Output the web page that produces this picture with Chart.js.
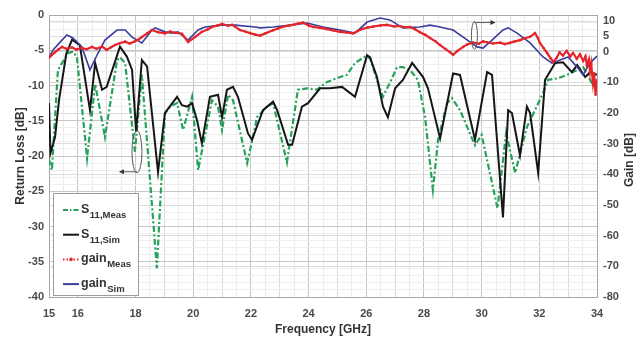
<!DOCTYPE html>
<html>
<head>
<meta charset="utf-8">
<title>Return loss and gain</title>
<script src="https://cdn.jsdelivr.net/npm/chart.js@4.4.1/dist/chart.umd.min.js"></script>
<style>
  html, body { margin: 0; padding: 0; background: #fff; }
</style>
</head>
<body>
<canvas id="chart" width="641" height="340"></canvas>
<script>
// S11 measured (left axis, dB)
const s11MeasFreq = [15.0, 15.1, 15.31, 15.66, 15.83, 15.97, 16.32, 16.6, 16.94, 17.36,
  17.46, 17.64, 17.98, 18.22, 18.74, 19.02, 19.2, 19.44, 19.65, 19.96,
  20.17, 20.65, 20.86, 21.0, 21.21, 21.38, 21.87, 22.14, 22.21, 22.56,
  22.77, 23.01, 23.25, 23.63, 23.95, 24.29, 24.64, 25.09, 25.33, 25.61,
  25.96, 26.13, 26.37, 26.58, 26.82, 27.07, 27.27, 27.52, 27.79, 28.04,
  28.31, 28.49, 28.8, 28.97, 29.25, 29.77, 30.0, 30.55, 30.85, 31.16,
  31.57, 31.85, 32.13, 32.3, 32.61, 32.96, 33.31, 33.52, 33.83, 34.0];
const s11MeasDb = [-20.5, -22.0, -7.8, -5.4, -5.2, -6.0, -20.3, -9.8, -17.3, -6.4,
  -6.0, -6.8, -19.4, -8.5, -35.9, -14.0, -13.0, -12.5, -16.3, -11.6,
  -22.0, -12.1, -13.0, -16.3, -11.3, -12.1, -21.0, -16.0, -14.5, -13.0,
  -12.5, -16.7, -20.9, -10.6, -10.4, -10.6, -9.5, -8.8, -8.5, -6.8,
  -5.9, -6.1, -9.2, -11.6, -9.6, -7.4, -7.4, -7.8, -9.2, -14.5,
  -24.8, -17.7, -12.5, -11.8, -13.5, -18.5, -17.0, -27.4, -16.7, -22.4,
  -15.9, -13.5, -11.1, -9.2, -9.0, -8.5, -7.8, -7.4, -9.7, -10.6];

// S11 simulated (left axis, dB)
const s11SimFreq = [15.0, 15.05, 15.21, 15.35, 15.6, 15.8, 16.07, 16.42, 16.6, 16.84,
  17.0, 17.46, 17.7, 17.88, 18.02, 18.22, 18.4, 18.78, 19.02, 19.44,
  19.61, 19.79, 19.96, 20.13, 20.3, 20.58, 20.86, 21.0, 21.17, 21.38,
  21.55, 21.9, 22.04, 22.42, 22.77, 22.91, 23.29, 23.43, 23.77, 23.98,
  24.4, 24.74, 25.16, 25.61, 26.03, 26.13, 26.37, 26.58, 26.75, 27.0,
  27.27, 27.59, 27.97, 28.14, 28.56, 29.01, 29.25, 29.77, 30.19, 30.36,
  30.74, 30.92, 31.05, 31.33, 31.57, 31.68, 31.96, 32.2, 32.55, 32.82,
  33.13, 33.31, 33.59, 33.76, 34.0];
const s11SimDb = [-12.5, -19.6, -17.3, -12.0, -5.5, -3.5, -4.3, -13.5, -6.8, -10.6,
  -10.2, -4.5, -5.9, -7.8, -16.5, -6.4, -7.3, -22.3, -13.9, -11.6,
  -12.8, -13.0, -12.5, -14.9, -18.2, -11.6, -11.3, -14.5, -10.6, -10.2,
  -11.6, -16.8, -17.7, -13.5, -12.3, -13.5, -18.4, -18.4, -13.0, -12.5,
  -10.4, -10.4, -10.2, -11.6, -5.7, -6.0, -8.8, -13.0, -14.5, -10.4,
  -9.2, -6.8, -8.8, -10.4, -17.5, -8.3, -8.5, -17.7, -8.1, -8.5,
  -28.7, -13.5, -13.9, -19.9, -13.0, -13.9, -22.4, -9.2, -6.8, -6.7,
  -8.1, -7.1, -8.8, -8.1, -8.5];

// gain measured (right axis, dB)
const gainMeasFreq = [15.0, 15.1, 15.21, 15.33, 15.45, 15.6, 15.8, 15.95, 16.14, 16.3,
  16.49, 16.65, 16.84, 17.0, 17.15, 17.29, 17.45, 17.64, 17.8, 17.98,
  18.1, 18.22, 18.4, 18.57, 18.78, 19.02, 19.2, 19.37, 19.61, 19.82,
  20.06, 20.3, 20.5, 20.65, 20.85, 21.0, 21.2, 21.35, 21.62, 21.8,
  21.97, 22.15, 22.32, 22.5, 22.77, 22.95, 23.11, 23.3, 23.46, 23.63,
  23.81, 24.0, 24.15, 24.4, 24.64, 24.85, 25.09, 25.3, 25.54, 25.7,
  25.89, 26.05, 26.23, 26.5, 26.72, 26.95, 27.17, 27.35, 27.52, 27.7,
  27.86, 28.05, 28.21, 28.4, 28.56, 28.75, 28.9, 29.01, 29.15, 29.36,
  29.5, 29.7, 29.9, 30.05, 30.19, 30.4, 30.64, 30.8, 30.98, 31.15,
  31.33, 31.5, 31.68, 31.85, 31.95, 32.02, 32.15, 32.27, 32.4, 32.48,
  32.6, 32.7, 32.82, 32.95, 33.07, 33.17, 33.3, 33.41, 33.52, 33.6,
  33.65, 33.72, 33.76, 33.8, 33.86, 33.9, 33.95, 34.0];
const gainMeasDb = [-1.9, -1.0, -0.1, 0.8, 1.6, 1.0, 1.4, 0.7, 1.3, 0.8,
  1.6, 1.0, 1.7, 0.6, 1.5, 2.2, 2.8, 3.3, 2.7, 3.4,
  4.0, 4.8, 6.0, 7.1, 6.4, 6.0, 6.6, 6.2, 5.9, 3.2,
  4.8, 6.5, 7.3, 8.1, 8.6, 9.1, 8.5, 8.8, 7.1, 6.6,
  6.1, 5.6, 5.3, 6.0, 7.0, 7.6, 8.2, 8.5, 8.8, 9.2,
  9.5, 8.6, 8.1, 7.8, 7.4, 7.0, 6.5, 6.3, 6.0, 6.8,
  7.5, 7.9, 8.2, 8.6, 8.8, 8.3, 8.4, 8.0, 8.1, 7.3,
  6.4, 5.5, 4.5, 3.4, 2.2, 0.9, -0.1, -1.0, 0.2, 1.6,
  2.4, 3.0, 2.6, 3.4, 3.1, 2.7, 3.0, 2.5, 2.9, 3.4,
  3.8, 4.4, 4.9, 6.1, 4.5, 2.9, 1.2, -0.4, -2.2, -3.3,
  -2.0, -0.2, -1.2, 0.3, -1.5, -0.4, -2.3, -0.8, -3.0, -1.5,
  -4.5, -2.5, -6.5, -4.0, -10.2, -7.0, -14.0, -9.2];

// gain simulated (right axis, dB)
const gainSimFreq = [15.0, 15.14, 15.45, 15.62, 15.83, 16.14, 16.42, 16.7, 16.94, 17.36,
  17.64, 17.88, 18.22, 18.57, 18.68, 19.02, 19.26, 19.47, 19.82, 20.17,
  20.41, 21.0, 21.45, 22.14, 22.32, 22.77, 23.36, 23.95, 24.5, 25.09,
  25.61, 26.03, 26.48, 26.82, 27.27, 27.86, 28.21, 28.56, 29.01, 29.36,
  29.84, 30.05, 30.36, 30.74, 30.92, 31.23, 31.68, 32.13, 32.44, 32.72,
  33.0, 33.31, 33.52, 33.65, 33.86, 34.0];
const gainSimDb = [-1.7, 0.6, 3.8, 5.5, 4.5, 1.6, -5.9, -0.4, 3.8, 7.1,
  7.1, 4.8, 2.9, 7.1, 7.8, 6.5, 6.1, 6.5, 3.8, 7.1,
  8.1, 8.7, 8.7, 8.1, 7.8, 8.1, 8.7, 9.4, 8.1, 7.1,
  6.1, 9.7, 11.0, 10.4, 7.8, 8.1, 8.7, 8.1, 7.1, 4.8,
  1.6, 1.2, 3.8, 7.1, 7.8, 6.1, 2.9, -1.7, -3.7, -2.7,
  -1.7, -5.0, -7.6, -5.3, -2.7, -1.4];

// axis ticks
const freqLabels = [15, 16, 18, 20, 22, 24, 26, 28, 30, 32, 34];
const gainTicks = [-80, -70, -60, -50, -40, -30, -20, -10, 0, 5, 10];

// legend text
const legendMain = ["S", "S", "gain", "gain"];
const legendSub = ["11,Meas", "11,Sim", "Meas", "Sim"];

const colGreen = "#25a25a";
const colBlack = "#161616";
const colRed = "#e4262c";
const colBlue = "#3b3d9c";
const fontFam = "'Liberation Sans', Arial, sans-serif";

function pts(fs, vs) {
  return fs.map((f, i) => ({ x: f, y: vs[i] }));
}

// legend box, top border, gain title and the two pointer ellipses
const extras = {
  id: "extras",
  afterDatasetsDraw(chart) {
    const ctx = chart.ctx;
    const a = chart.chartArea;
    const xs = chart.scales.x, yl = chart.scales.y, yr = chart.scales.y2;
    ctx.save();

    // top border of plot
    ctx.strokeStyle = "#a8a8a8";
    ctx.lineWidth = 1;
    ctx.beginPath();
    ctx.moveTo(a.left, a.top + 0.5);
    ctx.lineTo(a.right, a.top + 0.5);
    ctx.stroke();

    // ellipse on the S11 curves with arrow to the left axis
    ctx.strokeStyle = "#5a5a5a";
    let cx = xs.getPixelForValue(18.05), cy = yl.getPixelForValue(-19.4);
    ctx.beginPath();
    ctx.ellipse(cx, cy, 5, 21, 0, 0, Math.PI * 2);
    ctx.stroke();
    let ay = cy + 20;
    ctx.beginPath();
    ctx.moveTo(cx, ay);
    ctx.lineTo(cx - 15, ay);
    ctx.stroke();
    ctx.fillStyle = "#333";
    ctx.beginPath();
    ctx.moveTo(cx - 18, ay);
    ctx.lineTo(cx - 13, ay - 2.5);
    ctx.lineTo(cx - 13, ay + 2.5);
    ctx.closePath();
    ctx.fill();

    // ellipse on the gain curves with arrow to the right axis
    cx = xs.getPixelForValue(29.75);
    cy = yr.getPixelForValue(5.3);
    ctx.beginPath();
    ctx.ellipse(cx, cy, 3, 14, 0, 0, Math.PI * 2);
    ctx.stroke();
    ay = cy - 13;
    ctx.beginPath();
    ctx.moveTo(cx, ay);
    ctx.lineTo(cx + 18, ay);
    ctx.stroke();
    ctx.beginPath();
    ctx.moveTo(cx + 21, ay);
    ctx.lineTo(cx + 16, ay - 2.5);
    ctx.lineTo(cx + 16, ay + 2.5);
    ctx.closePath();
    ctx.fill();

    // legend
    const bx = 53, by = 193, bw = 85, bh = 102;
    ctx.fillStyle = "#fff";
    ctx.fillRect(bx, by, bw, bh);
    ctx.strokeStyle = "#9c9c9c";
    ctx.strokeRect(bx + 0.5, by + 0.5, bw, bh);
    const styles = [
      { c: colGreen, d: [5, 2, 1.5, 2], w: 2 },
      { c: colBlack, d: [], w: 2 },
      { c: colRed, d: [1.5, 2], w: 2 },
      { c: colBlue, d: [], w: 2 }
    ];
    for (let i = 0; i < 4; i++) {
      const yc = 210 + i * 24.7;
      const s = styles[i];
      ctx.strokeStyle = s.c;
      ctx.lineWidth = s.w;
      ctx.setLineDash(s.d);
      ctx.beginPath();
      ctx.moveTo(63, yc);
      ctx.lineTo(79, yc);
      ctx.stroke();
      ctx.setLineDash([]);
      if (i === 2) {
        ctx.fillStyle = colRed;
        ctx.beginPath();
        ctx.arc(71, yc, 1.8, 0, Math.PI * 2);
        ctx.fill();
      }
      ctx.fillStyle = "#333";
      ctx.textAlign = "left";
      ctx.textBaseline = "alphabetic";
      ctx.font = "bold 12.5px " + fontFam;
      ctx.fillText(legendMain[i], 81, yc + 3);
      const w = ctx.measureText(legendMain[i]).width;
      ctx.font = "bold 9.5px " + fontFam;
      ctx.fillText(legendSub[i], 81 + w + 0.5, yc + 8);
    }

    // right axis title, reading bottom to top
    ctx.translate(630, (a.top + a.bottom) / 2 + 4);
    ctx.rotate(-Math.PI / 2);
    ctx.fillStyle = "#333";
    ctx.font = "bold 12px " + fontFam;
    ctx.textAlign = "center";
    ctx.textBaseline = "middle";
    ctx.fillText("Gain [dB]", 0, 0);
    ctx.restore();
  }
};

const tickFont = { family: fontFam, size: 11, weight: "bold" };
const titleFont = { family: fontFam, size: 12, weight: "bold" };

const ctx = document.getElementById("chart").getContext("2d");
const chart = new Chart(ctx, {
  type: "line",
  data: {
    datasets: [
      {
        label: "gain Meas",
        data: pts(gainMeasFreq, gainMeasDb),
        yAxisID: "y2",
        borderColor: colRed,
        backgroundColor: colRed,
        borderWidth: 2.2,
        pointRadius: 1.3,
        pointStyle: "circle",
        pointBorderWidth: 0,
      },
      {
        label: "gain Sim",
        data: pts(gainSimFreq, gainSimDb),
        yAxisID: "y2",
        borderColor: colBlue,
        borderWidth: 1.6,
      },
      {
        label: "S11 Sim",
        data: pts(s11SimFreq, s11SimDb),
        yAxisID: "y",
        borderColor: colBlack,
        borderWidth: 2,
      },
      {
        label: "S11 Meas",
        data: pts(s11MeasFreq, s11MeasDb),
        yAxisID: "y",
        borderColor: colGreen,
        borderWidth: 2.2,
        borderDash: [6, 2.5, 2, 2.5],
      },
    ],
  },
  options: {
    responsive: false,
    animation: false,
    layout: { padding: { top: 15, left: 0, right: 0, bottom: 0 } },
    plugins: {
      legend: { display: false },
      tooltip: { enabled: false },
    },
    elements: {
      point: { radius: 0 },
      line: { tension: 0, fill: false },
    },
    scales: {
      x: {
        type: "linear",
        min: 15,
        max: 34,
        afterBuildTicks: (s) => {
          const t = [];
          for (let v = 15; v <= 34.001; v += 0.5) t.push({ value: Math.round(v * 10) / 10 });
          s.ticks = t;
        },
        afterFit: (s) => { s.height = 43; },
        ticks: {
          autoSkip: false,
          maxRotation: 0,
          padding: 10,
          color: "#4a4a4a",
          font: tickFont,
          callback: (v) => (freqLabels.includes(v) ? String(v) : ""),
        },
        grid: {
          drawTicks: false,
          color: (c) => {
            const v = c.tick.value;
            if (v % 2 === 0) return "#c6c6c6";
            if (Number.isInteger(v)) return "#dadada";
            return "#ececec";
          },
        },
        border: { color: "#a8a8a8" },
        title: {
          display: true,
          text: "Frequency [GHz]",
          color: "#333",
          font: titleFont,
          padding: { top: 0, bottom: 3 },
        },
      },
      y: {
        position: "left",
        min: -40,
        max: 0,
        afterBuildTicks: (s) => {
          const t = [];
          for (let v = -40; v <= 0; v++) t.push({ value: v });
          s.ticks = t;
        },
        afterFit: (s) => { s.width = 49; },
        ticks: {
          autoSkip: false,
          padding: 5,
          color: "#4a4a4a",
          font: tickFont,
          callback: (v) => (v % 5 === 0 ? String(v) : ""),
        },
        grid: {
          drawTicks: false,
          color: (c) => (c.tick.value % 5 === 0 ? "#c6c6c6" : "#efefef"),
        },
        border: { color: "#a8a8a8" },
        title: {
          display: true,
          text: "Return Loss [dB]",
          color: "#333",
          font: titleFont,
          padding: { top: 13, bottom: 0 },
        },
      },
      y2: {
        position: "right",
        min: -80,
        max: 12,
        afterBuildTicks: (s) => {
          s.ticks = gainTicks.map((v) => ({ value: v }));
        },
        afterFit: (s) => { s.width = 44; },
        ticks: {
          autoSkip: false,
          padding: 6,
          color: "#4a4a4a",
          font: tickFont,
        },
        grid: {
          drawTicks: false,
          drawOnChartArea: true,
          color: "#dcdcdc",
        },
        border: { color: "#a8a8a8" },
      },
    },
  },
  plugins: [extras],
});
</script>
</body>
</html>
